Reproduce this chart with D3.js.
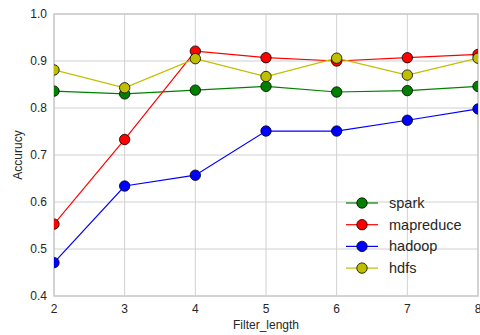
<!DOCTYPE html>
<html>
<head>
  <meta charset="UTF-8">
  <script src="https://d3js.org/d3.v7.min.js"></script>
  <style>
    body {
      margin: 0;
      background: #ffffff;
      overflow: hidden;
    }
    svg {
      display: block;
      font-family: 'Liberation Sans', Arial, sans-serif;
    }
    .grid line {
      stroke: #d0d0d0;
      stroke-width: 1px;
    }
    .tick-label {
      font-size: 12px;
      fill: #262626;
    }
    .axis-label {
      font-size: 12px;
      fill: #262626;
    }
    .legend text {
      font-size: 14.5px;
      fill: #262626;
    }
  </style>
</head>
<body>
  <svg id="chart"></svg>
  <script>
    const filterLengths = [2, 3, 4, 5, 6, 7, 8];
    const seriesNames = ["spark", "mapreduce", "hadoop", "hdfs"];
    const seriesColors = ["#008000", "#ff0000", "#0000ff", "#bfbf00"];
    const spark = [0.836, 0.830, 0.838, 0.846, 0.834, 0.837, 0.846];
    const mapreduce = [0.553, 0.733, 0.921, 0.907, 0.900, 0.907, 0.914];
    const hadoop = [0.471, 0.634, 0.657, 0.751, 0.751, 0.774, 0.798];
    const hdfs = [0.881, 0.843, 0.905, 0.867, 0.906, 0.870, 0.906];
    const yTicks = [0.4, 0.5, 0.6, 0.7, 0.8, 0.9, 1.0];

    const width = 480;
    const height = 335;
    const margin = { top: 14, right: 2, bottom: 39, left: 54 };

    const svg = d3.select("#chart")
      .attr("width", width)
      .attr("height", height);

    const x = d3.scaleLinear()
      .domain([2, 8])
      .range([margin.left, width - margin.right]);

    const y = d3.scaleLinear()
      .domain([0.4, 1.0])
      .range([height - margin.bottom, margin.top]);

    svg.append("defs").append("clipPath")
      .attr("id", "plot-clip")
      .append("rect")
      .attr("x", margin.left)
      .attr("y", margin.top)
      .attr("width", width - margin.right - margin.left)
      .attr("height", height - margin.bottom - margin.top);

    // grid
    const grid = svg.append("g").attr("class", "grid");
    grid.selectAll(".gx")
      .data(filterLengths)
      .join("line")
      .attr("x1", d => x(d)).attr("x2", d => x(d))
      .attr("y1", y(0.4)).attr("y2", y(1.0));
    grid.selectAll(".gy")
      .data(yTicks)
      .join("line")
      .attr("class", "gy")
      .attr("x1", x(2)).attr("x2", x(8))
      .attr("y1", d => y(d)).attr("y2", d => y(d));

    // frame
    svg.append("rect")
      .attr("x", x(2))
      .attr("y", y(1.0))
      .attr("width", x(8) - x(2))
      .attr("height", y(0.4) - y(1.0))
      .attr("fill", "none")
      .attr("stroke", "#cccccc")
      .attr("stroke-width", 1.5);

    // tick labels
    svg.append("g").selectAll("text")
      .data(yTicks)
      .join("text")
      .attr("class", "tick-label")
      .attr("x", margin.left - 7)
      .attr("y", d => y(d))
      .attr("dy", "0.35em")
      .attr("text-anchor", "end")
      .text(d => d.toFixed(1));

    svg.append("g").selectAll("text")
      .data(filterLengths)
      .join("text")
      .attr("class", "tick-label")
      .attr("x", d => x(d))
      .attr("y", y(0.4) + 17)
      .attr("text-anchor", "middle")
      .text(d => d);

    svg.append("text")
      .attr("class", "axis-label")
      .attr("x", (x(2) + x(8)) / 2)
      .attr("y", height - 6)
      .attr("text-anchor", "middle")
      .text("Filter_length");

    svg.append("text")
      .attr("class", "axis-label")
      .attr("transform", `translate(22,${(y(0.4) + y(1.0)) / 2}) rotate(-90)`)
      .attr("text-anchor", "middle")
      .text("Accurucy");

    // series
    const allSeries = [spark, mapreduce, hadoop, hdfs];
    const line = d3.line()
      .x((d, i) => x(filterLengths[i]))
      .y(d => y(d));

    const plot = svg.append("g").attr("clip-path", "url(#plot-clip)");
    allSeries.forEach((vals, s) => {
      const g = plot.append("g");
      g.append("path")
        .datum(vals)
        .attr("d", line)
        .attr("fill", "none")
        .attr("stroke", seriesColors[s])
        .attr("stroke-width", 1.2);
      g.selectAll("circle")
        .data(vals)
        .join("circle")
        .attr("cx", (d, i) => x(filterLengths[i]))
        .attr("cy", d => y(d))
        .attr("r", 5.2)
        .attr("fill", seriesColors[s])
        .attr("stroke", "#000")
        .attr("stroke-width", 0.8);
    });

    // legend
    const legend = svg.append("g").attr("class", "legend");
    const rows = legend.selectAll("g")
      .data(seriesNames)
      .join("g")
      .attr("transform", (d, i) => `translate(346,${203 + i * 21.7})`);
    rows.append("line")
      .attr("x1", 0).attr("x2", 32)
      .attr("stroke", (d, i) => seriesColors[i])
      .attr("stroke-width", 1.2);
    rows.append("circle")
      .attr("cx", 16)
      .attr("r", 5.2)
      .attr("fill", (d, i) => seriesColors[i])
      .attr("stroke", "#000")
      .attr("stroke-width", 0.8);
    rows.append("text")
      .attr("x", 43)
      .attr("dy", "0.35em")
      .text(d => d);
  </script>
</body>
</html>
